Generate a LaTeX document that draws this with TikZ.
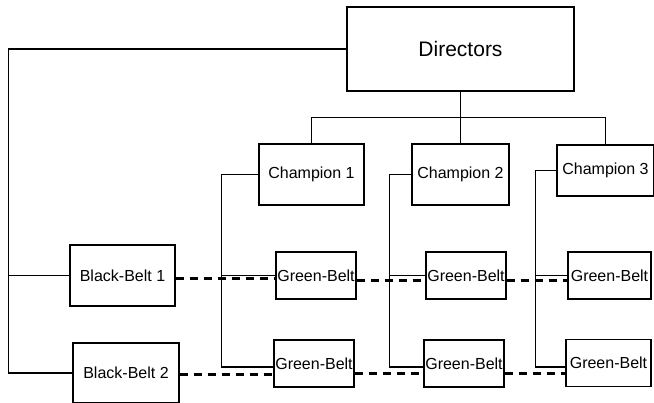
\documentclass[tikz,border=0pt]{standalone}
\usepackage{fontspec}
\setmainfont{Liberation Sans}
\begin{document}
\begin{tikzpicture}[
	x=1pt,
	y=-1pt,
	box/.style={
		rectangle,
		draw=black,
		line width=1.2pt,
		align=center,
		inner xsep=1pt,
		font=\fontsize{16}{19}\selectfont
	},
	dirbox/.style={
		box,
		minimum width=227pt,
		minimum height=84pt,
		font=\fontsize{21}{25}\selectfont
	},
	champbox/.style={
		box,
		minimum height=61pt
	},
	blackbox/.style={
		box,
		minimum width=105pt,
		minimum height=61pt
	},
	greenbox/.style={
		box,
		minimum width=80pt,
		minimum height=47pt
	},
	link/.style={
		line width=1.2pt
	},
	spine/.style={
		line width=1.5pt
	},
	beltlink/.style={
		line width=3pt,
		dash pattern=on 8pt off 6pt
	},
]

\useasboundingbox (0,0) rectangle (654,403);

\node[dirbox] (dir) at (460.5, 49) {Directors};

\node[champbox, minimum width=105pt] (ch1) at (311.5, 174.5) {Champion 1};
\node[champbox, minimum width=97pt] (ch2) at (460.5, 174.5) {Champion 2};
\node[champbox, minimum width=97pt, minimum height=51pt] (ch3) at (605.5, 170.5) {Champion 3};

\node[blackbox] (bb1) at (122.5, 275.5) {Black-Belt 1};
\node[blackbox, minimum width=106pt, minimum height=60pt] (bb2) at (126, 373) {Black-Belt 2};

\node[greenbox] (gb11) at (316, 275.5) {Green-Belt};
\node[greenbox] (gb12) at (466, 275.5) {Green-Belt};
\node[greenbox, minimum width=83pt] (gb13) at (609.5, 275.5) {Green-Belt};

\node[greenbox] (gb21) at (314, 363.5) {Green-Belt};
\node[greenbox] (gb22) at (464, 363.5) {Green-Belt};
\node[greenbox, minimum width=85pt] (gb23) at (608.5, 363) {Green-Belt};

% directors to champions
\draw[link] (dir.south) -- ++(0,26) coordinate (bus);
\draw[link] (ch1.north) |- (bus) -| (ch3.north);
\draw[link] (bus) -- (ch2.north);

% directors to black belts
\draw[spine] (dir.west) -- ++(-338,0) coordinate (bbbar) |- (bb2.west);
\draw[link] (bbbar |- bb1.west) -- (bb1.west);

% champions to green belts
\draw[spine] (ch1.west) -- ++(-37,0) coordinate (ch1bar) |- ([yshift=-3.5pt]gb21.west);
\draw[link] (ch1bar |- gb11.west) -- (gb11.west);
\draw[spine] (ch2.west) -- ++(-22,0) coordinate (ch2bar) |- ([yshift=-3.5pt]gb22.west);
\draw[link] (ch2bar |- gb12.west) -- (gb12.west);
\draw[spine] (ch3.west) -- ++(-21,0) coordinate (ch3bar) |- ([yshift=-4pt]gb23.west);
\draw[link] (ch3bar |- gb13.west) -- (gb13.west);

% black belts to green belts
\draw[beltlink] ([yshift=-3.5pt]bb1.east) -- ([yshift=-3.5pt]gb11.west);
\draw[beltlink] ([yshift=-5.5pt]gb11.east) -- ([yshift=-5.5pt]gb12.west);
\draw[beltlink] ([yshift=-5.5pt]gb12.east) -- ([yshift=-5.5pt]gb13.west);

\draw[beltlink] ([yshift=-2pt]bb2.east) -- ([yshift=-11.5pt]gb21.west);
\draw[beltlink] ([yshift=-10.5pt]gb21.east) -- ([yshift=-10.5pt]gb22.west);
\draw[beltlink] ([yshift=-10.5pt]gb22.east) -- ([yshift=-11pt]gb23.west);

\end{tikzpicture}
\end{document}
